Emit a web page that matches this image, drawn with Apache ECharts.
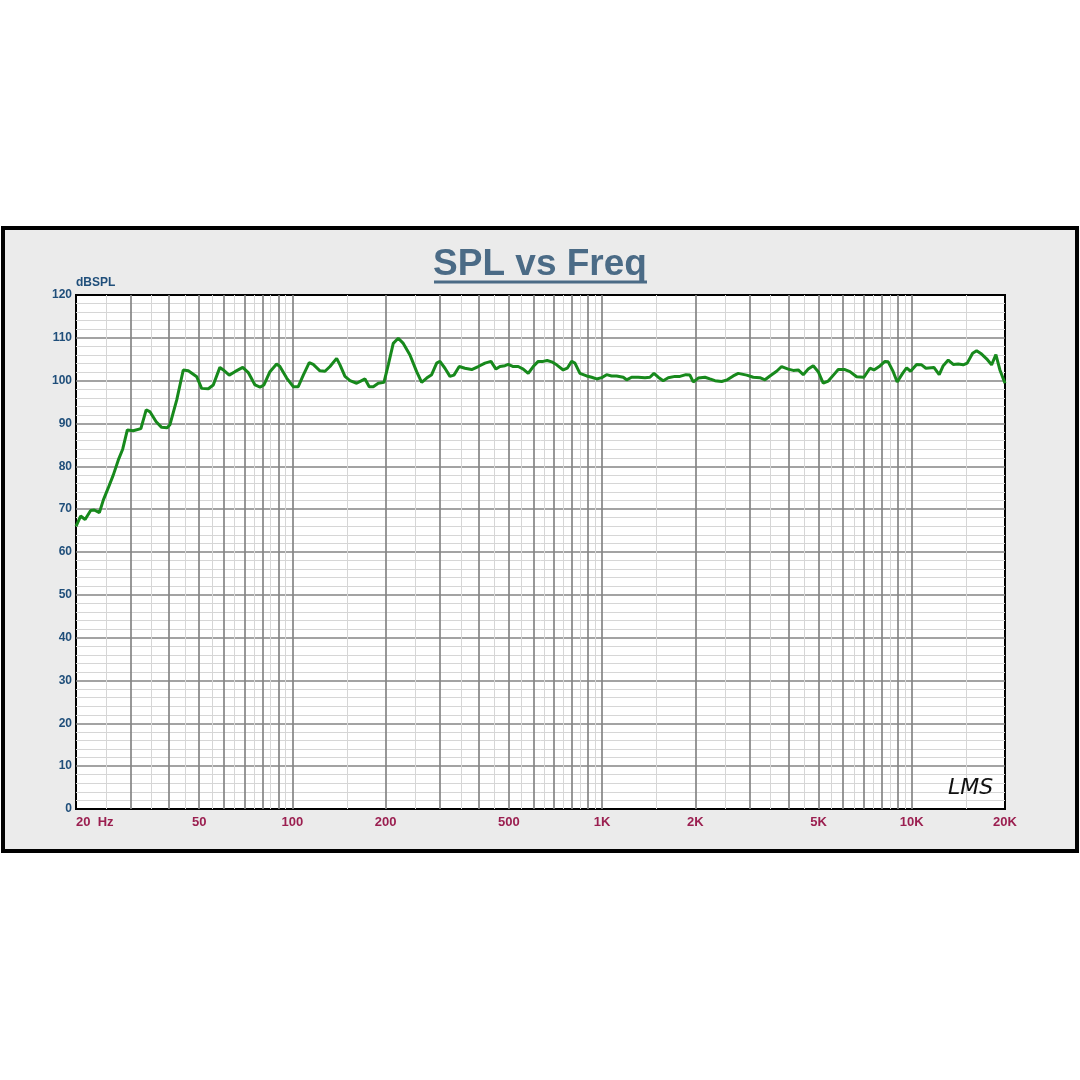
<!DOCTYPE html>
<html>
<head>
<meta charset="utf-8">
<style>
  html, body { margin: 0; padding: 0; background: #ffffff; }
  #chart { width: 1080px; height: 1080px; }
</style>
<script src="https://cdn.jsdelivr.net/npm/echarts@6/dist/echarts.min.js"></script>
</head>
<body>
<div id="chart"></div>
<script>
// ---- data ----
const freqHz = [
  20.0, 20.7, 21.4, 22.3, 22.9, 23.8, 24.5, 25.4, 26.4, 27.4, 28.3, 29.3, 30.6, 32.4, 33.7, 34.7, 36.3, 37.8, 39.4, 40.2,
  42.3, 44.4, 46.1, 49.1, 50.9, 53.5, 55.5, 58.3, 59.8, 62.5, 65.2, 69.1, 72.0, 75.7, 78.6, 80.9, 84.6, 88.9, 91.1, 95.8,
  100.6, 104.4, 108.4, 113.3, 116.7, 122.7, 127.4, 132.2, 138.9, 142.4, 147.8, 153.4, 161.2, 167.3, 171.5, 177.0, 182.4, 189.3, 197.5, 203.9,
  211.6, 219.6, 228.0, 239.6, 251.8, 261.4, 271.3, 281.5, 292.2, 299.4, 310.8, 322.6, 332.3, 345.6, 360.6, 379.1, 398.1, 418.5, 437.6, 454.1,
  467.9, 485.6, 497.6, 516.4, 536.0, 556.2, 577.3, 599.1, 621.7, 645.2, 664.7, 687.1, 713.1, 749.0, 771.6, 797.2, 817.0, 848.0, 891.3, 925.2,
  960.2, 996.6, 1034, 1073, 1114, 1170, 1200, 1245, 1308, 1375, 1427, 1470, 1518, 1575, 1635, 1719, 1784, 1865, 1921, 1969,
  2044, 2148, 2229, 2314, 2432, 2535, 2651, 2752, 2930, 3076, 3233, 3356, 3483, 3660, 3799, 3990, 4142, 4299, 4462, 4631,
  4806, 4988, 5177, 5373, 5647, 5787, 6083, 6313, 6636, 7006, 7326, 7546, 7850, 8189, 8392, 8709, 8972, 9340, 9622, 9912,
  10364, 10757, 11107, 11788, 12264, 12635, 13113, 13609, 14125, 14660, 15102, 15720, 16194, 16807, 17443, 18103, 18690, 19256, 20000
];
const splDb = [
  66.0, 68.4, 67.6, 69.7, 69.8, 69.2, 72.1, 74.9, 78.0, 81.5, 84.0, 88.5, 88.3, 88.8, 93.2, 92.7, 90.4, 89.1, 89.0, 89.7,
  95.5, 102.5, 102.3, 100.9, 98.2, 98.1, 99.0, 103.1, 102.5, 101.3, 102.1, 103.1, 101.9, 99.0, 98.5, 99.0, 102.1, 103.9, 103.3, 100.6,
  98.6, 98.6, 101.3, 104.2, 103.8, 102.3, 102.2, 103.3, 105.2, 103.7, 101.0, 100.0, 99.4, 100.0, 100.4, 98.6, 98.6, 99.4, 99.6, 103.7,
  108.7, 109.9, 108.7, 106.0, 102.1, 99.6, 100.6, 101.4, 104.1, 104.5, 102.9, 101.0, 101.3, 103.3, 102.9, 102.6, 103.3, 104.1, 104.5, 102.7,
  103.3, 103.5, 103.8, 103.3, 103.3, 102.7, 101.7, 103.3, 104.5, 104.5, 104.7, 104.4, 103.7, 102.5, 102.9, 104.5, 104.1, 101.7, 101.1, 100.8,
  100.4, 100.7, 101.4, 101.1, 101.1, 100.8, 100.2, 100.8, 100.8, 100.7, 100.8, 101.7, 100.8, 100.0, 100.7, 101.0, 101.0, 101.4, 101.3, 99.7,
  100.6, 100.8, 100.4, 100.0, 99.8, 100.2, 101.1, 101.7, 101.3, 100.8, 100.7, 100.2, 101.1, 102.2, 103.3, 102.7, 102.4, 102.5, 101.4, 102.7,
  103.5, 102.1, 99.4, 99.9, 101.7, 102.6, 102.6, 102.1, 100.9, 100.8, 102.9, 102.5, 103.3, 104.5, 104.4, 102.1, 99.7, 101.7, 103.0, 102.2,
  103.8, 103.7, 102.9, 103.1, 101.4, 103.5, 104.8, 103.8, 103.9, 103.7, 104.1, 106.4, 107.0, 106.2, 105.1, 103.7, 106.1, 102.5, 99.4
];
const xTickValues = [20, 50, 100, 200, 500, 1000, 2000, 5000, 10000, 20000];
const xTickLabels = ['20  Hz', '50', '100', '200', '500', '1K', '2K', '5K', '10K', '20K'];
const majorGridFreqs = [30, 40, 50, 60, 70, 80, 90, 100, 200, 300, 400, 500, 600, 700, 800, 900,
  1000, 2000, 3000, 4000, 5000, 6000, 7000, 8000, 9000, 10000];
const minorGridFreqs = [25, 35, 45, 55, 65, 75, 85, 95, 150, 250, 350, 450, 550, 650, 750, 850, 950,
  1500, 2500, 3500, 4500, 5500, 6500, 7500, 8500, 9500, 15000];
const yMin = 0, yMax = 120, yStep = 10;
const titleText = 'SPL vs Freq';
const yUnit = 'dBSPL';

// ---- chart ----
const chart = echarts.init(document.getElementById('chart'), null, { renderer: 'canvas' });
const FONT = '"Liberation Sans", Arial, sans-serif';
const curve = freqHz.map((f, i) => [f, splDb[i]]);

const gridLines = []
  .concat(minorGridFreqs.map(f => ({ xAxis: f, lineStyle: { color: '#d6d6d6', width: 1, type: 'solid' } })))
  .concat(majorGridFreqs.map(f => ({ xAxis: f, lineStyle: { color: '#858585', width: 1.7, type: 'solid' } })));

chart.setOption({
  backgroundColor: '#ffffff',
  animation: false,
  title: {
    text: titleText,
    left: 'center',
    top: 241,
    textStyle: { fontFamily: FONT, fontSize: 37, fontWeight: 'bold', color: '#4b6b86' }
  },
  graphic: [
    {
      type: 'rect', z: -5,
      shape: { x: 3, y: 228, width: 1074, height: 623 },
      style: { fill: '#ebebeb', stroke: '#000000', lineWidth: 4 }
    },
    {
      type: 'line', z: 10,
      shape: { x1: 434, y1: 282, x2: 647, y2: 282 },
      style: { stroke: '#4b6b86', lineWidth: 3 }
    },
    {
      type: 'text', z: 10, left: 948, top: 777,
      style: { text: 'LMS', font: 'italic 22px "DejaVu Sans", sans-serif', fill: '#111111' }
    }
  ],
  grid: {
    left: 76, right: 75, top: 295, bottom: 271,
    show: true, backgroundColor: '#ffffff', borderColor: '#000000', borderWidth: 2
  },
  xAxis: {
    type: 'log', logBase: 10, min: 20, max: 20000,
    axisLine: { show: false },
    axisTick: { show: false, customValues: xTickValues },
    splitLine: { show: false },
    minorSplitLine: { show: false },
    axisLabel: {
      customValues: xTickValues,
      formatter: v => {
        const i = xTickValues.findIndex(t => Math.abs(t - v) < 1e-6 * t);
        return i >= 0 ? xTickLabels[i] : '';
      },
      alignMinLabel: 'left',
      margin: 7,
      color: '#9b1f50', fontFamily: FONT, fontSize: 13, fontWeight: 'bold'
    }
  },
  yAxis: {
    type: 'value', min: yMin, max: yMax, interval: yStep,
    name: yUnit, nameLocation: 'end', nameGap: 3,
    nameTextStyle: { align: 'left', verticalAlign: 'bottom', color: '#1f4e7a', fontFamily: FONT, fontSize: 12, fontWeight: 'bold' },
    axisLine: { show: false },
    axisTick: { show: false },
    axisLabel: { margin: 4, color: '#1f4e7a', fontFamily: FONT, fontSize: 12, fontWeight: 'bold' },
    splitLine: { show: true, showMinLine: false, showMaxLine: false, lineStyle: { color: '#858585', width: 1.7 } },
    minorTick: { show: false, splitNumber: 5 },
    minorSplitLine: { show: true, lineStyle: { color: '#d6d6d6', width: 1 } }
  },
  series: [
    {
      type: 'line',
      data: curve,
      z: 3,
      symbol: 'none',
      smooth: false,
      lineStyle: { color: '#17891c', width: 3 },
      markLine: {
        silent: true, z: 1,
        symbol: ['none', 'none'],
        label: { show: false },
        emphasis: { disabled: true },
        data: gridLines
      }
    }
  ]
});
</script>
</body>
</html>
